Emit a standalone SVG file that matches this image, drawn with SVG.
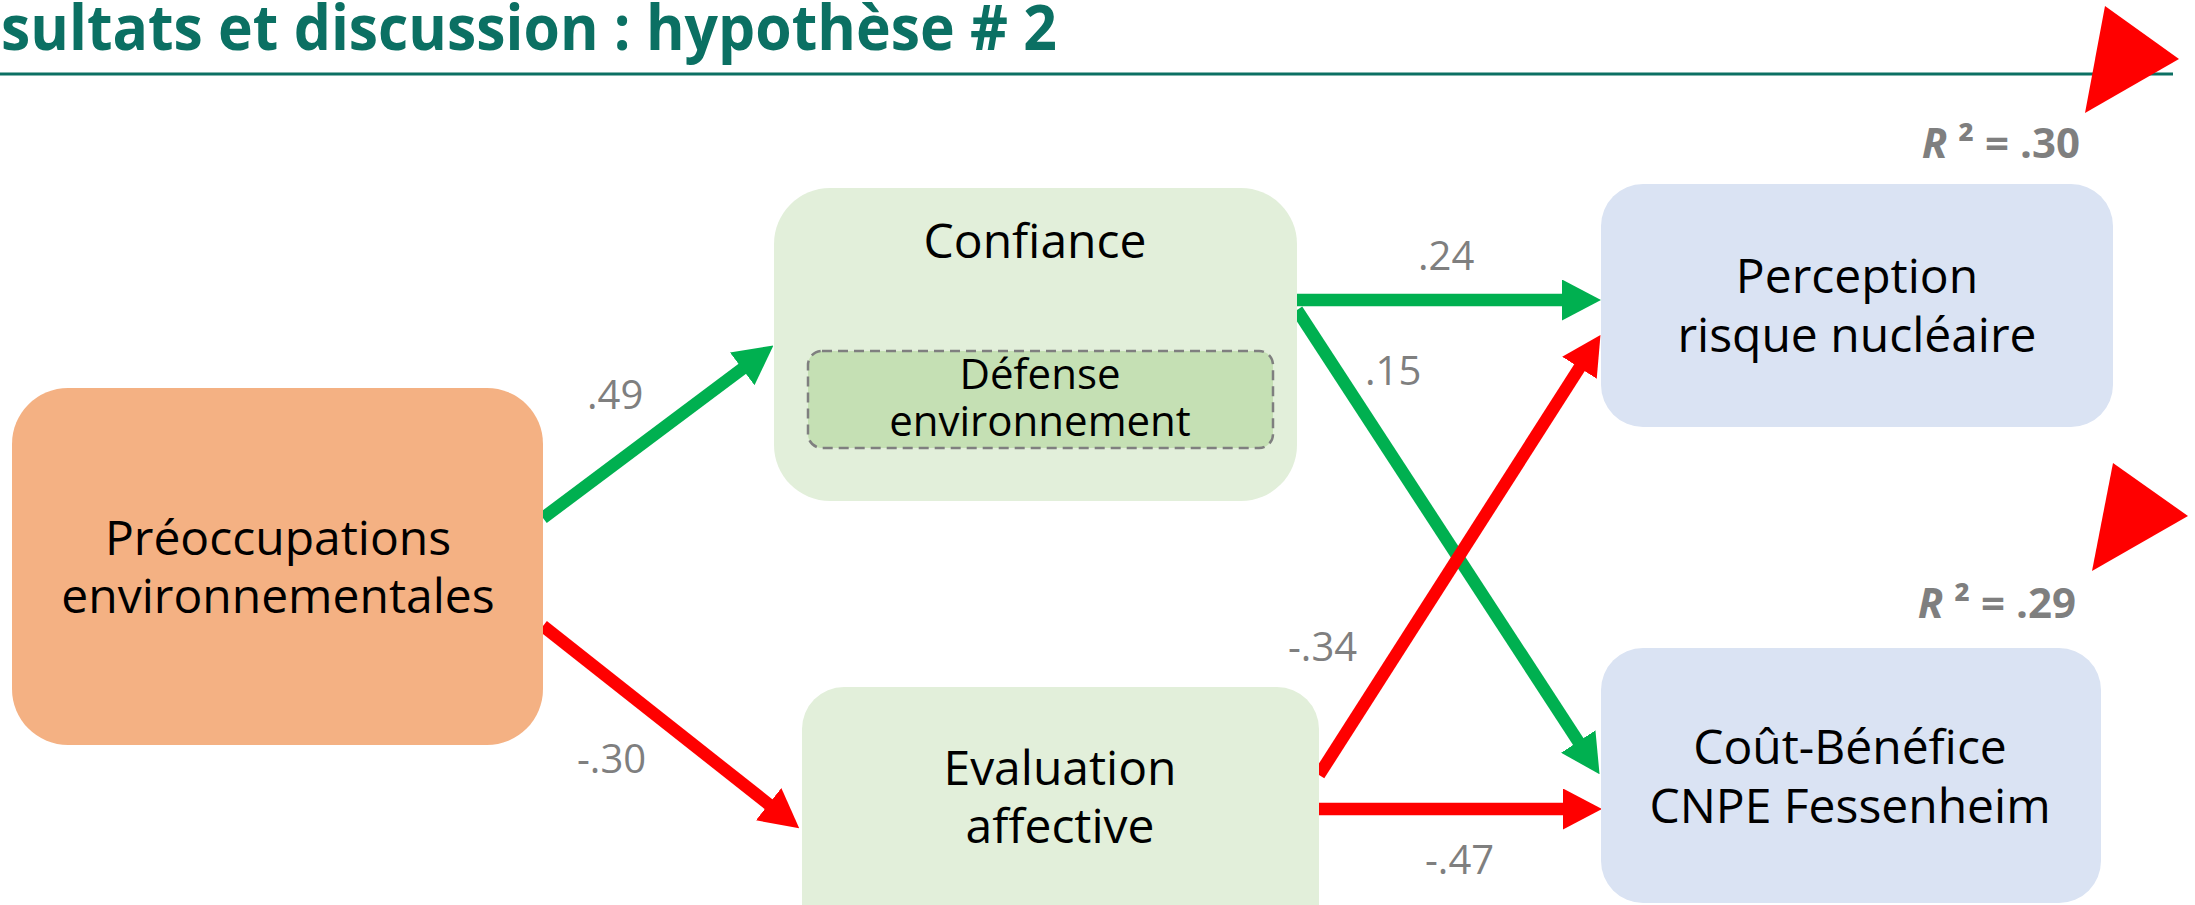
<svg xmlns="http://www.w3.org/2000/svg" width="2195" height="905" viewBox="0 0 2195 905">
  <style>
    .node-text { font-family: "Open Sans", "Noto Sans", sans-serif; font-size: 48px; fill: #000000; text-anchor: middle; }
    .sub-text { font-family: "Open Sans", "Noto Sans", sans-serif; font-size: 42px; fill: #000000; text-anchor: middle; }
    .coef { font-family: "Open Sans", "Noto Sans", sans-serif; font-size: 40px; fill: #7F7F7F; }
    .r2 { font-family: "Open Sans", "Noto Sans", sans-serif; font-size: 42px; font-weight: bold; fill: #7F7F7F; text-anchor: end; }
    .pos { stroke: #00B050; stroke-width: 12.5; fill: none; }
    .neg { stroke: #FF0000; stroke-width: 12.5; fill: none; }
  </style>
  <defs>
    <marker id="head-green" markerUnits="userSpaceOnUse" markerWidth="39" markerHeight="41" viewBox="0 0 39 41" refX="1" refY="20.5" orient="auto">
      <path d="M0,0 L39,20.5 L0,41 z" fill="#00B050"/>
    </marker>
    <marker id="head-red" markerUnits="userSpaceOnUse" markerWidth="39" markerHeight="41" viewBox="0 0 39 41" refX="1" refY="20.5" orient="auto">
      <path d="M0,0 L39,20.5 L0,41 z" fill="#FF0000"/>
    </marker>
  </defs>

  <rect width="2195" height="905" fill="#FFFFFF"/>

  <g id="title">
    <text x="1" y="50" font-family="'Open Sans', 'Noto Sans', sans-serif" font-size="63" font-weight="bold" fill="#0B7063" textLength="1056" lengthAdjust="spacingAndGlyphs">sultats et discussion : hypothèse # 2</text>
    <rect x="0" y="72.5" width="2173" height="3" fill="#0B7063"/>
  </g>

  <g id="decor">
    <polygon points="2105,6 2179,59 2085,113" fill="#FF0000"/>
    <polygon points="2113,463 2188,516 2092,571" fill="#FF0000"/>
  </g>

  <g id="connectors">
    <path class="pos" d="M543,518 L743,368.2" marker-end="url(#head-green)"/>
    <path class="neg" d="M543,626 L769.4,804.8" marker-end="url(#head-red)"/>
    <path class="pos" d="M1297,300 L1563,300" marker-end="url(#head-green)"/>
    <path class="pos" d="M1297,310 L1578.8,742.4" marker-end="url(#head-green)"/>
    <path class="neg" d="M1319,775 L1580,366.9" marker-end="url(#head-red)"/>
    <path class="neg" d="M1319,809 L1564,809" marker-end="url(#head-red)"/>
    <text class="coef" x="587" y="409">.49</text>
    <text class="coef" x="577" y="773">-.30</text>
    <text class="coef" x="1418" y="270">.24</text>
    <text class="coef" x="1365" y="385">.15</text>
    <text class="coef" x="1288" y="661">-.34</text>
    <text class="coef" x="1425" y="874">-.47</text>
  </g>

  <g id="node-preoccupations">
    <rect x="12" y="388" width="531" height="357" rx="56" fill="#F4B183"/>
    <text class="node-text" x="278" y="555">Préoccupations</text>
    <text class="node-text" x="278" y="613">environnementales</text>
  </g>

  <g id="node-confiance">
    <rect x="774" y="188" width="523" height="313" rx="56" fill="#E2EFDA"/>
    <text class="node-text" x="1035" y="258">Confiance</text>
  </g>

  <g id="node-defense">
    <rect x="808" y="351" width="465" height="97" rx="14" fill="#C5E0B4" stroke="#7F7F7F" stroke-width="2.5" stroke-dasharray="10,6"/>
    <text class="sub-text" x="1040" y="389">Défense</text>
    <text class="sub-text" x="1040" y="436">environnement</text>
  </g>

  <g id="node-evaluation">
    <rect x="802" y="687" width="517" height="260" rx="42" fill="#E2EFDA"/>
    <text class="node-text" x="1060" y="785">Evaluation</text>
    <text class="node-text" x="1060" y="843">affective</text>
  </g>

  <g id="node-perception">
    <rect x="1601" y="184" width="512" height="243" rx="42" fill="#DAE3F3"/>
    <text class="node-text" x="1857" y="293">Perception</text>
    <text class="node-text" x="1857" y="352">risque nucléaire</text>
    <text class="r2" x="2080" y="158"><tspan font-style="italic">R</tspan> ² = .30</text>
  </g>

  <g id="node-cout">
    <rect x="1601" y="648" width="500" height="255" rx="42" fill="#DAE3F3"/>
    <text class="node-text" x="1850" y="764">Coût-Bénéfice</text>
    <text class="node-text" x="1850" y="823">CNPE Fessenheim</text>
    <text class="r2" x="2076" y="618"><tspan font-style="italic">R</tspan> ² = .29</text>
  </g>
</svg>
